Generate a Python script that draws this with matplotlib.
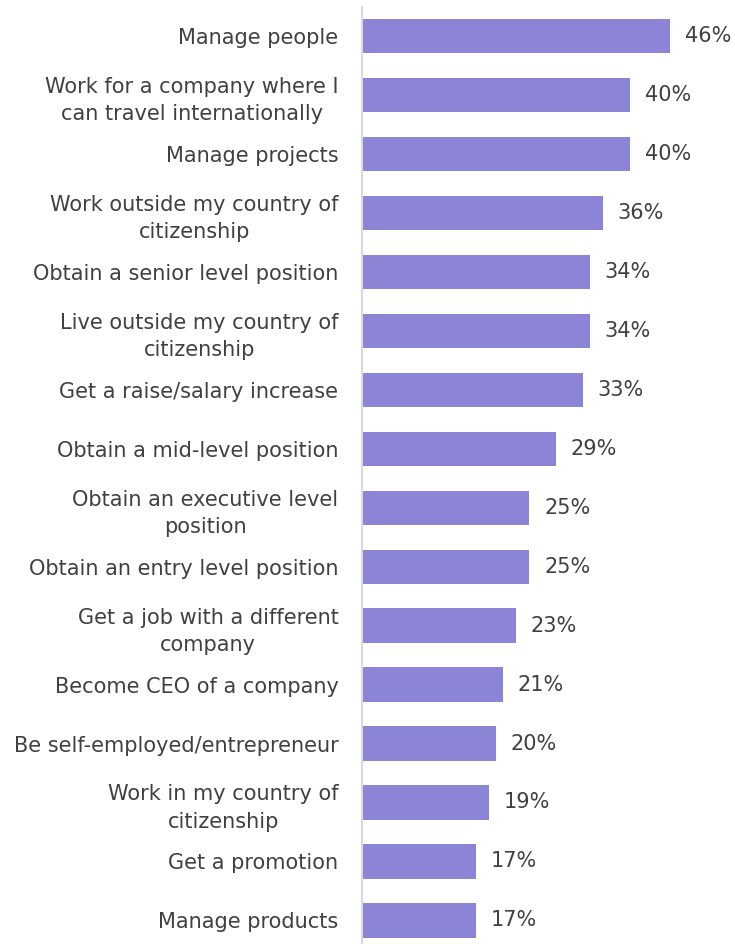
import matplotlib
matplotlib.use("Agg")
import matplotlib.pyplot as plt

labels = [
    "Manage people",
    "Work for a company where I\ncan travel internationally",
    "Manage projects",
    "Work outside my country of\ncitizenship",
    "Obtain a senior level position",
    "Live outside my country of\ncitizenship",
    "Get a raise/salary increase",
    "Obtain a mid-level position",
    "Obtain an executive level\nposition",
    "Obtain an entry level position",
    "Get a job with a different\ncompany",
    "Become CEO of a company",
    "Be self-employed/entrepreneur",
    "Work in my country of\ncitizenship",
    "Get a promotion",
    "Manage products",
]
values = [46, 40, 40, 36, 34, 34, 33, 29, 25, 25, 23, 21, 20, 19, 17, 17]

BAR = "#8B84D7"
TXT = "#404040"
FS = 15

plt.rcParams["font.family"] = ["DejaVu Sans"]

fig = plt.figure(figsize=(7.35, 9.44), dpi=100)
ax = fig.add_axes([362 / 735, 0, 1 - 362 / 735, 1 - 7 / 944])

pos = list(range(len(values)))
ax.barh(pos, values, height=0.58, color=BAR)
for p, v in zip(pos, values):
    ax.text(v + 2.2, p, f"{v}%", va="center", ha="left", fontsize=FS, color=TXT)

ax.set_xlim(0, 55.7)
ax.set_ylim(15.40, -0.49)
ax.set_yticks(pos)
ax.set_yticklabels(labels, fontsize=FS, color=TXT, linespacing=1.45)
ax.tick_params(axis="y", length=0, pad=17)
ax.set_xticks([])
for s in ["top", "right", "bottom"]:
    ax.spines[s].set_visible(False)
ax.spines["left"].set_color("#D9D9D9")
ax.spines["left"].set_linewidth(1.5)
for t in ax.get_yticklabels():
    t.set_horizontalalignment("right")
    t.set_multialignment("center")

fig.savefig("out.png", dpi=100)
